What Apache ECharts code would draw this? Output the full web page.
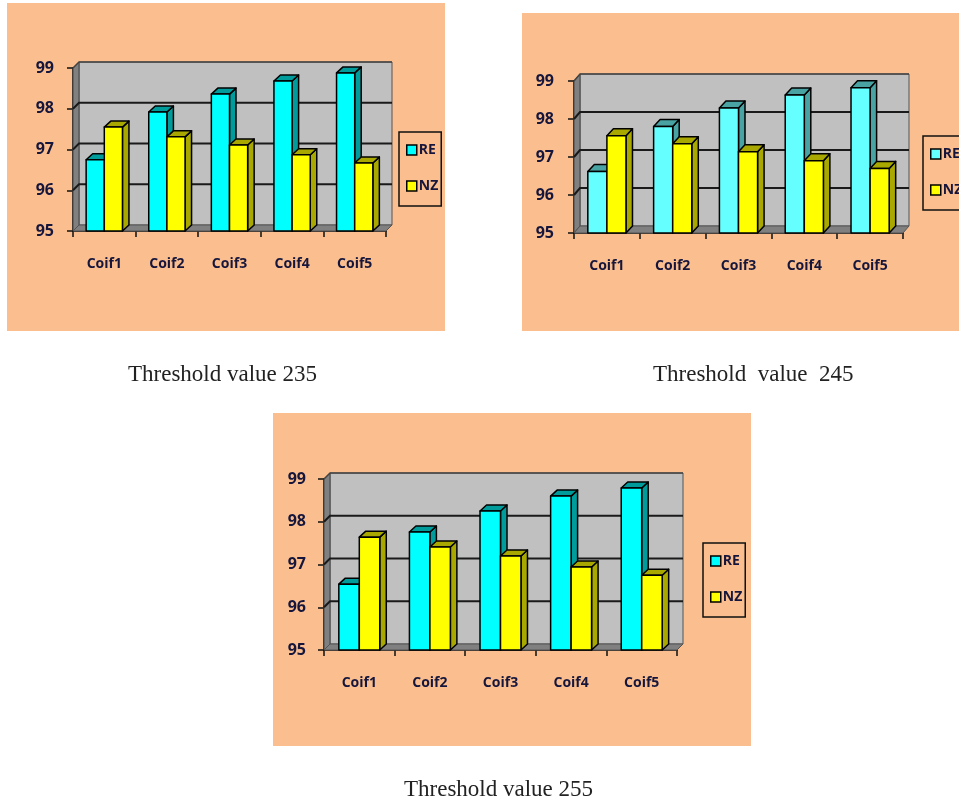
<!DOCTYPE html>
<html><head><meta charset="utf-8">
<style>html,body{margin:0;padding:0;background:#fff}#c{width:959px;height:803px;filter:blur(0.45px)}</style>
<script src="https://cdn.jsdelivr.net/npm/echarts@6/dist/echarts.min.js"></script>
</head><body><div id="c"></div>
<script>
const categories = ['Coif1','Coif2','Coif3','Coif4','Coif5'];
const yTicks = [95,96,97,98,99];
const re235 = [96.75,97.92,98.36,98.68,98.88];
const nz235 = [97.55,97.31,97.11,96.87,96.67];
const re245 = [96.62,97.80,98.29,98.63,98.82];
const nz245 = [97.56,97.35,97.14,96.90,96.70];
const re255 = [96.54,97.76,98.25,98.60,98.79];
const nz255 = [97.64,97.41,97.20,96.94,96.75];
const captions = ['Threshold value 235','Threshold  value  245','Threshold value 255'];

const panels = [
 {x:7,y:3,w:438,h:328, grid:[73,68,313,163], legend:[399,132], re:re235, nz:nz235, reC:'#00FFFF', reS:'#009c9c', cap:[128,376], labM:[19,26], dx:6, dy:6},
 {x:522,y:13,w:437,h:318, grid:[574,81,329,152], legend:[923,136], re:re245, nz:nz245, reC:'#66FFFF', reS:'#49a3a3', cap:[653,376], labM:[20,26], dx:6, dy:7},
 {x:273,y:413,w:478,h:333, grid:[324,479,353,171], legend:[703,543], re:re255, nz:nz255, reC:'#00FFFF', reS:'#009c9c', cap:[404,791], labM:[18,26], dx:6, dy:6}
];
const nzC='#FFFF00', nzS='#A8A800';
const ink='#16163c';

function wallItem(p){
  return function(params, api){
    const r = params.coordSys, dx=p.dx, dy=p.dy;
    const kids=[];
    if(params.dataIndex===0){
      kids.push({type:'rect',shape:{x:r.x+dx,y:r.y-dy,width:r.width,height:r.height},style:{fill:'#C0C0C0',stroke:'#555',lineWidth:1}});
      kids.push({type:'polygon',shape:{points:[[r.x,r.y],[r.x+dx,r.y-dy],[r.x+dx,r.y+r.height-dy],[r.x,r.y+r.height]]},style:{fill:'#808080',stroke:'#444',lineWidth:1}});
      kids.push({type:'polygon',shape:{points:[[r.x,r.y+r.height],[r.x+dx,r.y+r.height-dy],[r.x+r.width+dx,r.y+r.height-dy],[r.x+r.width,r.y+r.height]]},style:{fill:'#808080',stroke:'#555',lineWidth:1}});
    }
    const c = api.coord([0, api.value(1)]);
    if(api.value(1)>yTicks[0]){
      const v = api.value(1)===yTicks[yTicks.length-1];
      kids.push({type:'polyline',shape:{points:[[r.x,c[1]],[r.x+dx,c[1]-dy],[r.x+r.width+dx,c[1]-dy]]},style:{fill:'none',stroke:v?'#444':'#1a1a1a',lineWidth:v?1.5:2}});
    }
    return {type:'group',children:kids};
  };
}
function barItem(p, side, front, shade){
  return function(params, api){
    const band = api.size([1,0])[0], w = band*0.29;
    const c = api.coord([api.value(0), api.value(1)]);
    const base = api.coord([api.value(0), yTicks[0]]);
    const x = side<0 ? c[0]-w : c[0], t=c[1], b=base[1], dx=p.dx+0.5, dy=p.dy;
    const edge={stroke:'#000',lineWidth:1.5,lineJoin:'round'};
    return {type:'group',children:[
      {type:'polygon',shape:{points:[[x+w,t],[x+w+dx,t-dy],[x+w+dx,b-dy],[x+w,b]]},style:{fill:shade,...edge}},
      {type:'polygon',shape:{points:[[x,t],[x+dx,t-dy],[x+w+dx,t-dy],[x+w,t]]},style:{fill:shade,...edge}},
      {type:'rect',shape:{x:x,y:t,width:w,height:b-t},style:{fill:front,...edge}}
    ]};
  };
}

const grids=[],xAxes=[],yAxes=[],series=[],legends=[],gfx=[];
panels.forEach((p,i)=>{
  gfx.push({type:'rect',z:-10,shape:{x:p.x,y:p.y,width:p.w,height:p.h},style:{fill:'#FBBF8F'}});
  gfx.push({type:'text',z:10,left:p.cap[0],top:p.cap[1]-13,style:{text:captions[i],font:'23px "Liberation Serif"',fill:'#222'}});
  grids.push({left:p.grid[0],top:p.grid[1],width:p.grid[2],height:p.grid[3]});
  xAxes.push({type:'category',gridIndex:i,data:categories,
    axisLine:{lineStyle:{color:'#000',width:1.5}},axisTick:{show:true,length:6,alignWithLabel:false,lineStyle:{color:'#111',width:1.5}},
    axisLabel:{margin:p.labM[1],fontFamily:'Open Sans',fontWeight:700,fontSize:14,color:ink,interval:0},splitLine:{show:false}});
  yAxes.push({type:'value',gridIndex:i,min:95,max:99,interval:1,
    axisLine:{show:true,lineStyle:{color:'#000',width:1.5}},axisTick:{show:true,length:6,lineStyle:{color:'#111',width:1.5}},
    axisLabel:{margin:p.labM[0],fontFamily:'Open Sans',fontWeight:700,fontSize:16,color:ink},splitLine:{show:false}});
  series.push({type:'custom',name:'wall'+i,xAxisIndex:i,yAxisIndex:i,renderItem:wallItem(p),encode:{x:0,y:1},silent:true,
    data:yTicks.map(v=>[categories[0],v])});
  series.push({type:'custom',name:'RE',xAxisIndex:i,yAxisIndex:i,renderItem:barItem(p,-1,p.reC,p.reS),encode:{x:0,y:1},itemStyle:{color:p.reC},
    data:categories.map((c,k)=>[c,p.re[k]])});
  series.push({type:'custom',name:'NZ',xAxisIndex:i,yAxisIndex:i,renderItem:barItem(p,1,nzC,nzS),encode:{x:0,y:1},itemStyle:{color:nzC},
    data:categories.map((c,k)=>[c,p.nz[k]])});
  const itemStyle=c=>({color:c,borderColor:'#000',borderWidth:1.5});
  legends.push({orient:'vertical',left:p.legend[0],top:p.legend[1],padding:[11,3,13,7],itemWidth:10,itemHeight:10,itemGap:22,
    selectedMode:false,borderColor:'#111',borderWidth:1.5,icon:'rect',
    textStyle:{fontFamily:'Open Sans',fontWeight:700,fontSize:14,lineHeight:14,color:ink,padding:[0,0,0,-3]},
    data:[{name:'RE',itemStyle:itemStyle(p.reC)},{name:'NZ',itemStyle:itemStyle(nzC)}]});
});
const chart=echarts.init(document.getElementById('c'),null,{renderer:'canvas'});
chart.setOption({animation:false,backgroundColor:'#fff',grid:grids,xAxis:xAxes,yAxis:yAxes,series:series,legend:legends,graphic:gfx});
</script></body></html>
